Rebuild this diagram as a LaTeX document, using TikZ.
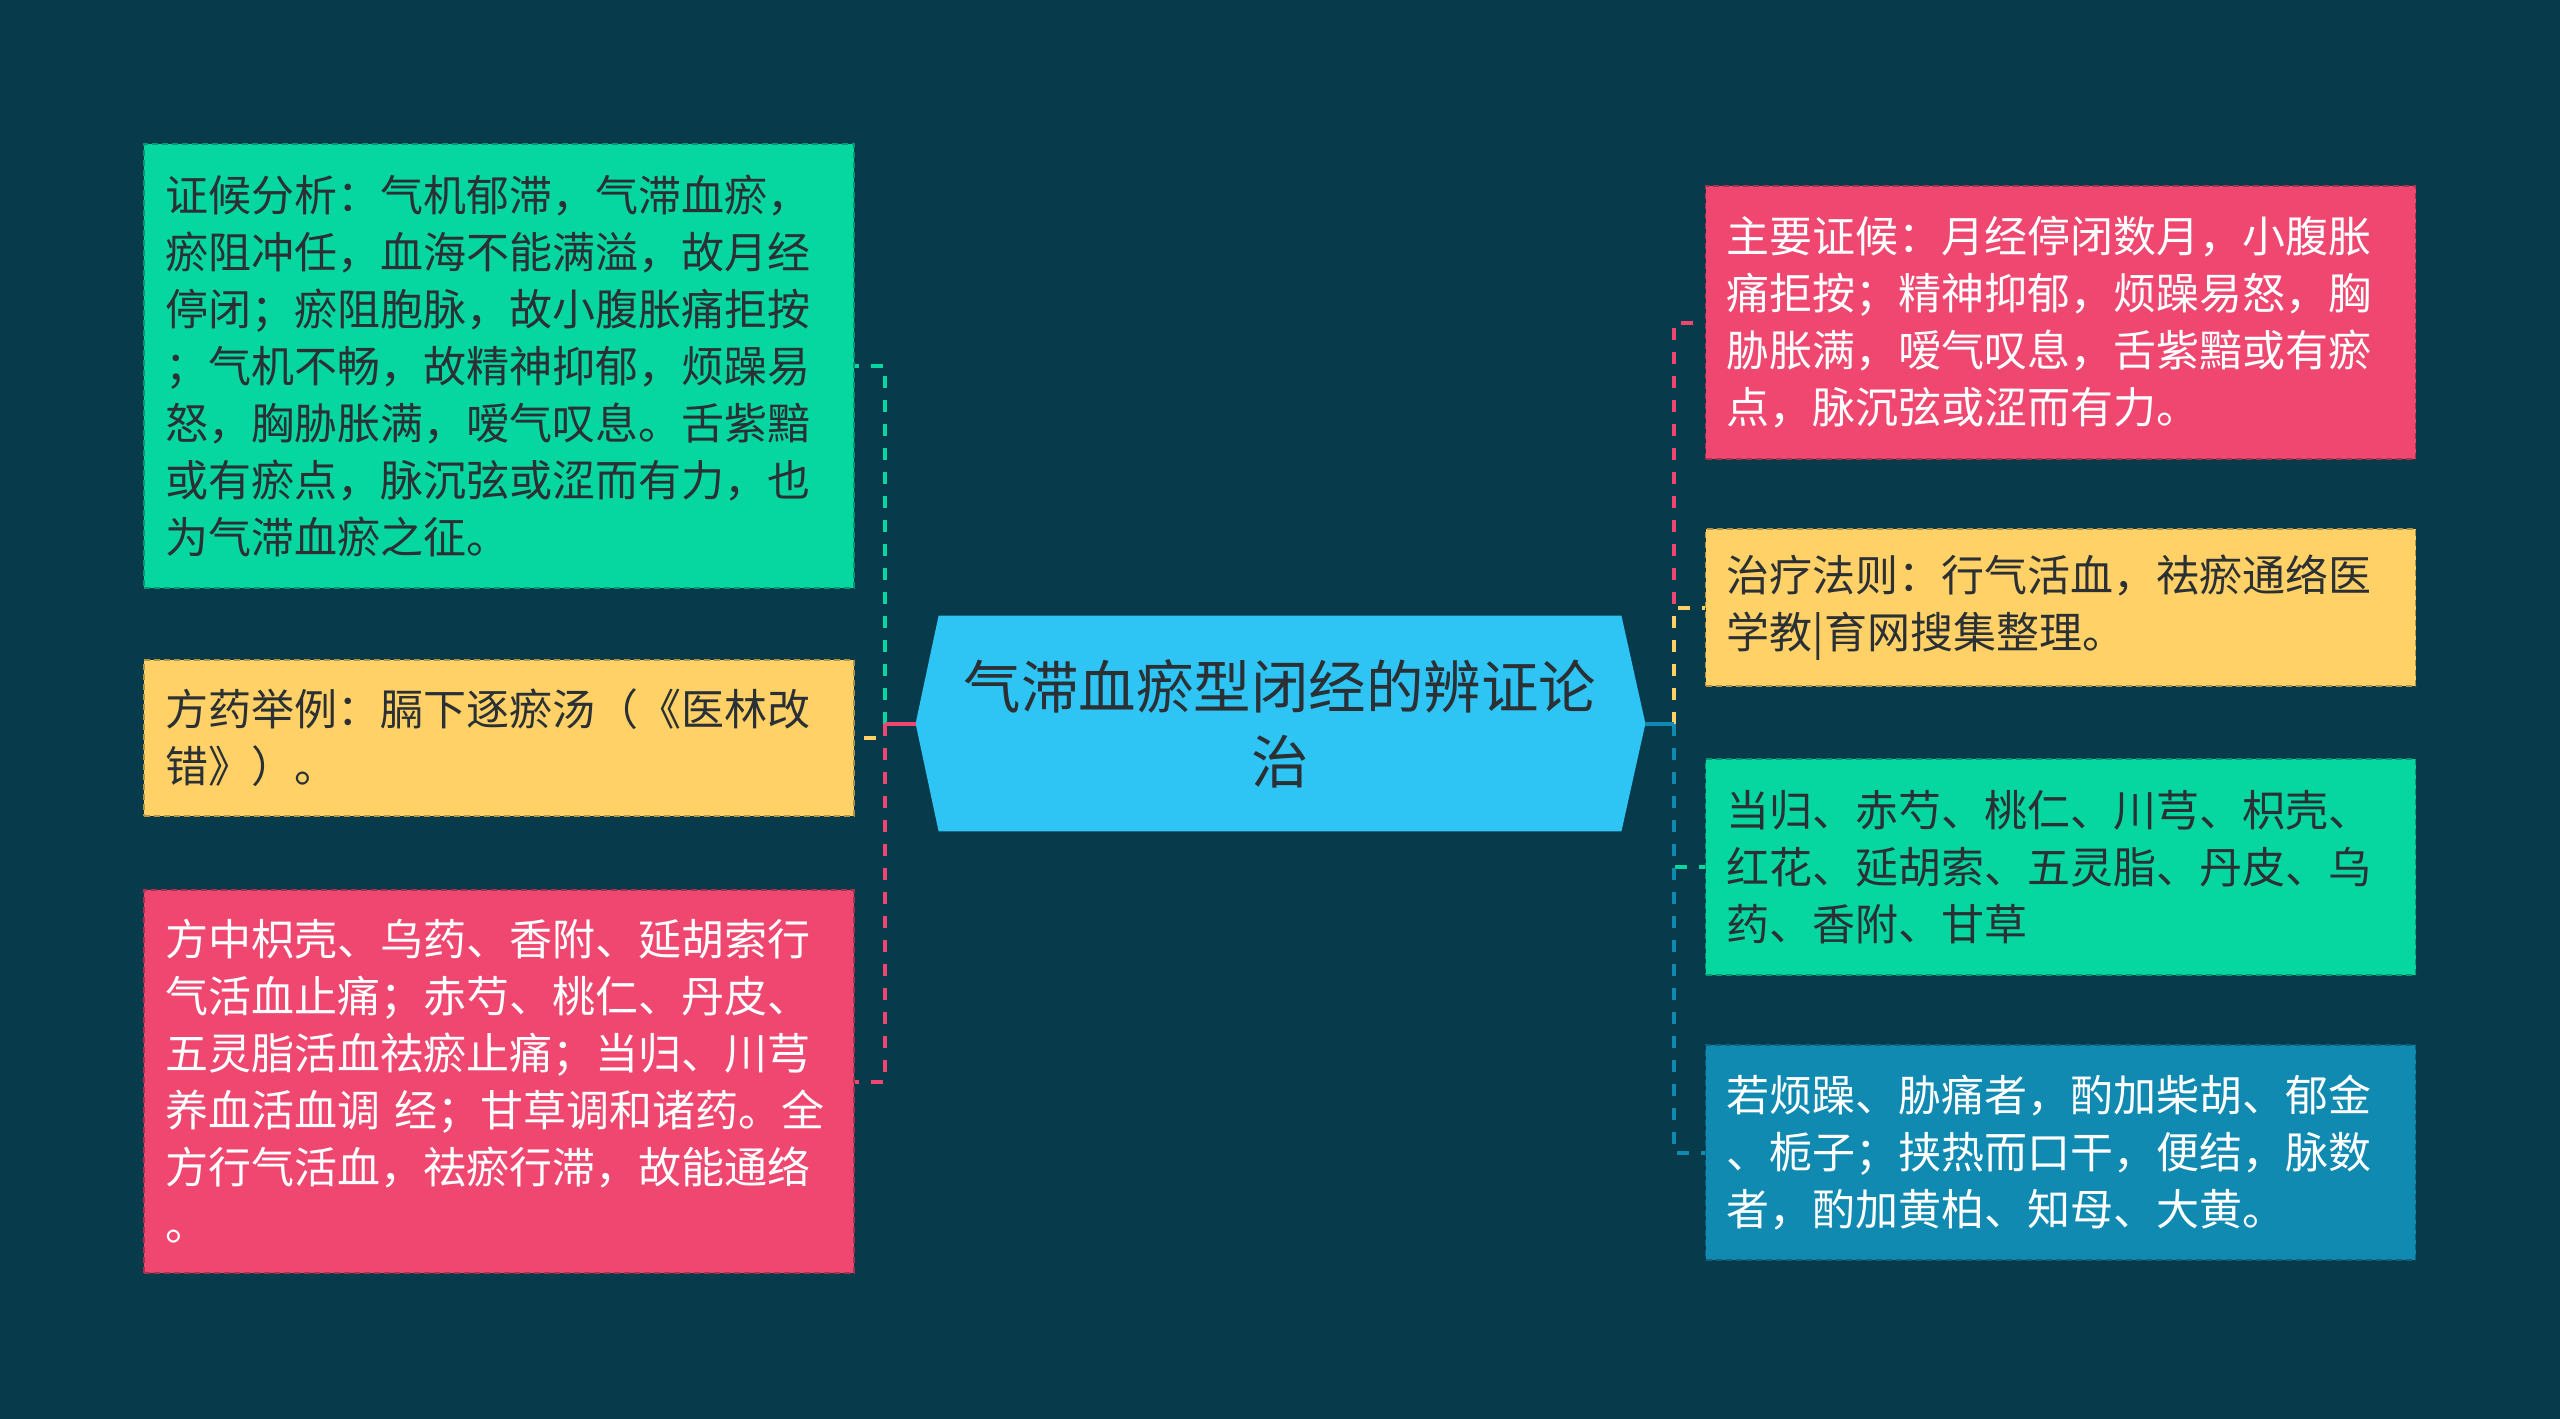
\documentclass[tikz,border=0pt]{standalone}
\usepackage{fontspec}
\setmainfont{Noto Sans CJK SC}
\usetikzlibrary{backgrounds}
\definecolor{bg}{HTML}{073B4C}
\definecolor{cgreen}{HTML}{06D6A0}
\definecolor{cyellow}{HTML}{FFD166}
\definecolor{cred}{HTML}{EF476F}
\definecolor{cblue}{HTML}{118AB2}
\definecolor{ccenter}{HTML}{2EC4F4}
\definecolor{ctext}{HTML}{2A3034}
\begin{document}
\begin{tikzpicture}[x=0.5pt,y=-0.5pt,
  box/.style={rectangle, minimum width=355pt, text width=334pt, inner xsep=10.5pt, inner ysep=0pt,
    align=left, font=\fontsize{21.5}{28.5}\selectfont, dash pattern=on 3pt off 2pt, line width=0.6pt},
  gbox/.style={box, fill=cgreen, draw=cgreen!70!black, text=ctext},
  ybox/.style={box, fill=cyellow, draw=cyellow!70!black, text=ctext},
  rbox/.style={box, fill=cred, draw=cred!70!black, text=white},
  bbox/.style={box, fill=cblue, draw=cblue!70!black, text=white},
  ctr/.style={rectangle, minimum width=341pt, minimum height=107.5pt, inner sep=0pt, align=center,
    font=\fontsize{28.75}{37.5}\selectfont, text=ctext},
  conn/.style={line width=2pt, dash pattern=on 6pt off 6pt},
  connsolid/.style={line width=2pt},
]
\useasboundingbox (0,0) rectangle (2560,1419);

% central node
\node[ctr] (c) at (1280,723.5) {气滞血瘀型闭经的辨证论\\治};
\coordinate (cl) at ([xshift=-11.5pt]c.west);
\coordinate (cr) at ([xshift=12pt]c.east);
\begin{scope}[on background layer]
  \fill[bg] (0,0) rectangle (2560,1419);
  \fill[ccenter] (c.north west) -- (c.north east) -- (cr) -- (c.south east) -- (c.south west) -- (cl) -- cycle;
\end{scope}

% spine points
\coordinate (sl) at (885,723.5);
\coordinate (sr) at (1674,723.5);

% left boxes
\node[gbox, minimum height=222pt] (L1) at (499,366) {证候分析：气机郁滞，气滞血瘀，\\瘀阻冲任，血海不能满溢，故月经\\停闭；瘀阻胞脉，故小腹胀痛拒按\\；气机不畅，故精神抑郁，烦躁易\\怒，胸胁胀满，嗳气叹息。舌紫黯\\或有瘀点，脉沉弦或涩而有力，也\\为气滞血瘀之征。};
\node[ybox, minimum height=78pt] (L2) at (499,738) {方药举例：膈下逐瘀汤（《医林改\\错》）。};
\node[rbox, minimum height=191.5pt] (L3) at (499,1081.5) {方中枳壳、乌药、香附、延胡索行\\气活血止痛；赤芍、桃仁、丹皮、\\五灵脂活血祛瘀止痛；当归、川芎\\养血活血调 经；甘草调和诸药。全\\方行气活血，祛瘀行滞，故能通络\\。};

% right boxes
\node[rbox, minimum height=136.5pt] (R1) at (2060.5,322.5) {主要证候：月经停闭数月，小腹胀\\痛拒按；精神抑郁，烦躁易怒，胸\\胁胀满，嗳气叹息，舌紫黯或有瘀\\点，脉沉弦或涩而有力。};
\node[ybox, minimum height=78.5pt] (R2) at (2060.5,607.5) {治疗法则：行气活血，祛瘀通络医\\学教|育网搜集整理。};
\node[gbox, minimum height=108pt] (R3) at (2060.5,867) {当归、赤芍、桃仁、川芎、枳壳、\\红花、延胡索、五灵脂、丹皮、乌\\药、香附、甘草};
\node[bbox, minimum height=107.5pt] (R4) at (2060.5,1152.5) {若烦躁、胁痛者，酌加柴胡、郁金\\、栀子；挟热而口干，便结，脉数\\者，酌加黄柏、知母、大黄。};

% connectors left
\draw[conn, cgreen] (sl) |- (L1.east);
\draw[conn, cyellow] (sl) |- (L2.east);
\draw[conn, cred] (sl) |- (L3.east);
\draw[connsolid, cred] (cl) -- (sl);

% connectors right
\draw[conn, cred] (sr) |- (R1.west);
\draw[conn, cyellow] (sr) |- (R2.west);
\draw[conn, cgreen] (sr) |- (R3.west);
\draw[conn, cblue] (sr) |- (R4.west);
\draw[connsolid, cblue] (cr) -- (sr);
\end{tikzpicture}
\end{document}
